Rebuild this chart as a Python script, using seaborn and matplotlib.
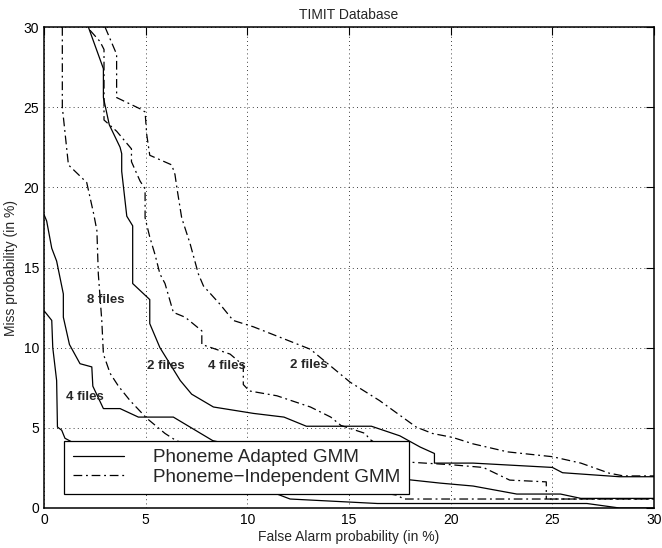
import matplotlib
matplotlib.use('Agg')
import matplotlib.pyplot as plt
import seaborn as sns
from matplotlib.lines import Line2D

# Phoneme Adapted GMM (solid) curves
adapt_a_x = [0, 0.13, 0.38, 0.62, 0.95, 0.95, 1.25, 1.77, 2.35, 2.4, 2.92, 3.74, 4.64, 6.36, 8.3,
             10.5, 13.5, 16.0, 17.3, 19.5, 21.1, 23.25, 25.4, 26.4, 30]
adapt_a_y = [18.3, 17.9, 16.2, 15.4, 13.35, 11.9, 10.2, 9.0, 8.8, 7.6, 6.2, 6.2, 5.67, 5.67, 4.2,
             3.6, 2.8, 2.1, 1.85, 1.55, 1.37, 0.87, 0.87, 0.6, 0.6]

adapt_b_x = [0, 0.13, 0.38, 0.43, 0.62, 0.66, 0.87, 1.03, 3.0, 7.0, 11.5, 12.1, 16.4, 26.7, 28.3, 30]
adapt_b_y = [12.3, 12.1, 11.7, 10.0, 7.95, 5.05, 4.85, 4.35, 3.0, 1.6, 0.85, 0.56, 0.28, 0.28, 0.0, 0.0]

adapt_c_x = [2.18, 2.92, 2.92, 3.21, 3.74, 3.82, 3.82, 4.07, 4.36, 4.36, 5.2, 5.2, 5.7, 6.7, 7.26,
             8.33, 10.3, 11.8, 12.9, 16.1, 17.5, 18.5, 19.2, 19.2, 21.1, 25.0, 25.5, 28.3, 30]
adapt_c_y = [30, 27.4, 25.6, 23.9, 22.5, 22.1, 21.0, 18.2, 17.6, 14.0, 13.0, 11.5, 10.0, 7.95, 7.1,
             6.3, 5.9, 5.67, 5.1, 5.1, 4.5, 3.8, 3.4, 2.8, 2.8, 2.53, 2.2, 1.95, 1.95]

# Phoneme-Independent GMM (dash-dot) curves
indep_a_x = [0.9, 0.9, 1.2, 2.1, 2.45, 2.6, 2.67, 2.84, 2.92, 3.25, 3.66, 4.23, 5.05, 5.95, 6.5,
             10.0, 14.0, 17.35, 17.7, 30]
indep_a_y = [30, 25.0, 21.4, 20.3, 18.3, 17.3, 14.6, 11.7, 9.6, 8.4, 7.6, 6.7, 5.6, 4.65, 4.2,
             2.8, 1.5, 0.8, 0.56, 0.56]

indep_b_x = [2.26, 2.75, 2.95, 2.95, 3.57, 4.3, 4.3, 4.72, 4.97, 4.97, 5.2, 5.46, 5.7, 5.95, 6.36,
             6.94, 7.76, 7.76, 9.15, 9.8, 9.8, 10.1, 11.45, 13.1, 14.1, 14.6, 15.8, 16.0, 17.7,
             20.0, 21.6, 22.9, 24.7, 24.7, 30]
indep_b_y = [29.8, 29.1, 28.6, 24.2, 23.5, 22.4, 21.6, 20.4, 19.9, 18.1, 16.9, 15.8, 14.6, 14.0, 12.2,
             11.9, 11.05, 10.2, 9.6, 8.9, 7.7, 7.3, 7.0, 6.3, 5.67, 5.15, 4.65, 4.3, 2.88,
             2.7, 2.53, 1.74, 1.63, 0.56, 0.56]

indep_c_x = [3.0, 3.57, 3.57, 4.72, 4.97, 5.05, 5.2, 6.28, 6.44, 6.53, 6.77, 7.18, 7.59, 7.84, 8.66,
             9.3, 10.3, 13.1, 15.05, 16.5, 18.3, 19.1, 20.1, 21.1, 22.8, 25.0, 26.4, 27.8, 28.5, 30]
indep_c_y = [30, 28.3, 25.6, 24.9, 24.7, 23.3, 22.0, 21.4, 20.8, 20.0, 18.1, 16.5, 14.6, 13.85, 12.7,
             11.7, 11.3, 9.9, 7.85, 6.7, 5.05, 4.65, 4.4, 4.0, 3.5, 3.2, 2.8, 2.17, 2.0, 2.0]

# annotations
file_labels = ['8 files', '2 files', '4 files', '2 files', '4 files']
label_x = [2.1, 5.07, 8.07, 12.1, 1.08]
label_y = [13.0, 8.85, 8.85, 8.9, 6.9]

ticks = [0, 5, 10, 15, 20, 25, 30]

sns.set_style('white')
plt.rcParams['font.family'] = ['Liberation Sans', 'DejaVu Sans']

fig = plt.figure(figsize=(6.62, 5.48), dpi=100)
ax = fig.add_axes([0.0665, 0.073, 0.9215, 0.8777])

dashdot = (0, (7, 3, 1.5, 3))
for xs, ys in [(adapt_a_x, adapt_a_y), (adapt_b_x, adapt_b_y), (adapt_c_x, adapt_c_y)]:
    sns.lineplot(x=xs, y=ys, sort=False, estimator=None, color='black',
                 linewidth=0.9, ax=ax)
for xs, ys in [(indep_a_x, indep_a_y), (indep_b_x, indep_b_y), (indep_c_x, indep_c_y)]:
    sns.lineplot(x=xs, y=ys, sort=False, estimator=None, color='black',
                 linewidth=0.9, linestyle=dashdot, ax=ax)

for txt, lx, ly in zip(file_labels, label_x, label_y):
    ax.text(lx, ly, txt, fontsize=9.5, fontweight='bold', va='center', ha='left')

ax.set_xlim(0, 30)
ax.set_ylim(0, 30)
ax.set_xticks(ticks)
ax.set_yticks(ticks)
ax.grid(True, linestyle=(0, (1, 4)), color='black', linewidth=0.6)
ax.tick_params(direction='in', length=5.5, width=0.8, top=True, right=True,
               labelsize=10, colors='black')
for sp in ax.spines.values():
    sp.set_color('black')
    sp.set_linewidth(1.1)

ax.set_xlabel('False Alarm probability (in %)', fontsize=10, labelpad=2)
ax.set_ylabel('Miss probability (in %)', fontsize=10, labelpad=4)
ax.set_title('TIMIT Database', fontsize=10, pad=6)

handles = [Line2D([], [], color='black', linewidth=0.9),
           Line2D([], [], color='black', linewidth=0.9, linestyle=dashdot)]
leg = ax.legend(handles, ['Phoneme Adapted GMM', 'Phoneme\u2212Independent GMM'],
                loc='lower left', bbox_to_anchor=(0.033, 0.029), fontsize=13.6,
                handlelength=2.7, handletextpad=1.55, labelspacing=0.1,
                borderpad=0.45, borderaxespad=0, fancybox=False, framealpha=1,
                edgecolor='black')
leg.get_frame().set_linewidth(0.9)

fig.savefig('out.png', dpi=100)
